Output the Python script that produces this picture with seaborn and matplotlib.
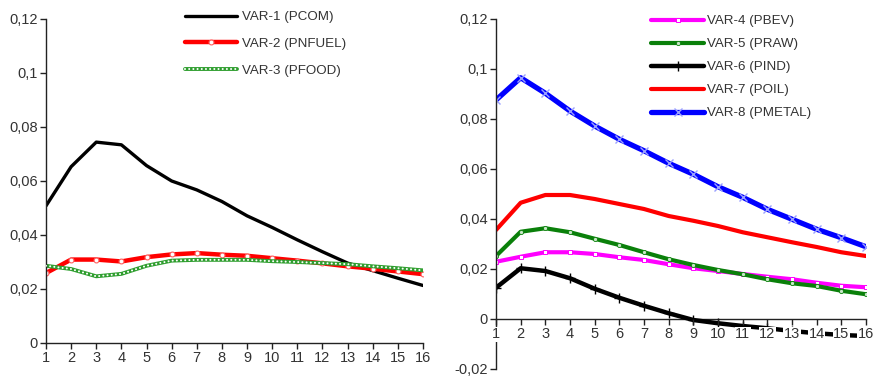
import matplotlib
matplotlib.use("Agg")
import matplotlib.pyplot as plt
import matplotlib.ticker as mticker
from matplotlib.legend_handler import HandlerTuple
import seaborn as sns
import numpy as np

# Horizon (periods)
periods = list(range(1, 17))

# Left panel series
var1_pcom = [0.0508, 0.0653, 0.0744, 0.0734, 0.0657, 0.0600, 0.0567, 0.0524,
             0.0471, 0.0428, 0.0382, 0.0338, 0.0296, 0.0268, 0.0240, 0.0213]
var2_pnfuel = [0.0259, 0.0309, 0.0309, 0.0302, 0.0318, 0.0328, 0.0333, 0.0327,
               0.0323, 0.0314, 0.0305, 0.0295, 0.0284, 0.0275, 0.0265, 0.0255]
var3_pfood = [0.0286, 0.0274, 0.0247, 0.0256, 0.0286, 0.0305, 0.0308, 0.0308,
              0.0308, 0.0303, 0.0300, 0.0296, 0.0292, 0.0284, 0.0277, 0.0269]

# Right panel series
var4_pbev = [0.0229, 0.0249, 0.0267, 0.0267, 0.0260, 0.0247, 0.0236, 0.0219,
             0.0203, 0.0192, 0.0180, 0.0169, 0.0159, 0.0145, 0.0133, 0.0127]
var5_praw = [0.0252, 0.0349, 0.0363, 0.0347, 0.0321, 0.0296, 0.0267, 0.0239,
             0.0216, 0.0196, 0.0179, 0.0159, 0.0143, 0.0132, 0.0113, 0.0099]
var6_pind = [0.0125, 0.0203, 0.0192, 0.0163, 0.0121, 0.0085, 0.0053, 0.0023,
             -0.0004, -0.0017, -0.0028, -0.0037, -0.0048, -0.0057, -0.0064, -0.0068]
var7_poil = [0.0356, 0.0465, 0.0496, 0.0496, 0.0480, 0.0460, 0.0440, 0.0412,
             0.0393, 0.0372, 0.0347, 0.0327, 0.0307, 0.0288, 0.0267, 0.0252]
var8_pmetal = [0.0876, 0.0965, 0.0903, 0.0832, 0.0772, 0.0719, 0.0673, 0.0623,
               0.0579, 0.0529, 0.0487, 0.0439, 0.0399, 0.0359, 0.0325, 0.0289]

left_labels = ["VAR-1 (PCOM)", "VAR-2 (PNFUEL)", "VAR-3 (PFOOD)"]
right_labels = ["VAR-4 (PBEV)", "VAR-5 (PRAW)", "VAR-6 (PIND)", "VAR-7 (POIL)", "VAR-8 (PMETAL)"]

sns.set_style("white")
plt.rcParams["font.family"] = ["Liberation Sans", "DejaVu Sans"]

fig = plt.figure(figsize=(8.74, 3.79), dpi=100)
ax1 = fig.add_axes([46 / 874, 1 - 343 / 379, 377 / 874, 324 / 379])
ax2 = fig.add_axes([496 / 874, 1 - 369 / 379, 370 / 874, 350 / 379])

tick_col = "#333333"


def comma_fmt(v, pos):
    if abs(v) < 1e-12:
        return "0"
    s = ("%.2f" % v).rstrip("0")
    return s.replace(".", ",")


def style_axes(ax, ylo, yhi):
    ax.set_xlim(1, 16)
    ax.set_ylim(ylo, yhi)
    ax.set_xticks(periods)
    ax.set_yticks(np.round(np.arange(ylo, yhi + 0.001, 0.02), 2))
    ax.yaxis.set_major_formatter(mticker.FuncFormatter(comma_fmt))
    for side in ("top", "right"):
        ax.spines[side].set_visible(False)
    for side in ("left", "bottom"):
        ax.spines[side].set_color("#222222")
        ax.spines[side].set_linewidth(1.0)
    ax.tick_params(axis="both", direction="out", length=4, width=1.0,
                   color="#222222", labelcolor=tick_col, labelsize=10.5,
                   bottom=True, left=True, pad=2)
    ax.set_xlabel("")
    ax.set_ylabel("")


# ---- Left panel ----
sns.lineplot(x=periods, y=var1_pcom, ax=ax1, color="black", linewidth=2.4,
             label=left_labels[0])
sns.lineplot(x=periods, y=var2_pnfuel, ax=ax1, color="#ff0000", linewidth=3.2,
             marker="o", markersize=3.5, markerfacecolor="white",
             markeredgecolor="#ff6060", markeredgewidth=0.8, label=left_labels[1])
sns.lineplot(x=periods, y=var3_pfood, ax=ax1, color="#2f9e2f", linewidth=2.8,
             label=left_labels[2])
# hollow chain effect inside the food line
food_dots, = ax1.plot(periods, var3_pfood, color="white", linewidth=1.5,
                      linestyle=(0, (0.01, 2.0)), dash_capstyle="round",
                      solid_capstyle="round", zorder=3)

style_axes(ax1, 0, 0.12)
handles, labels = ax1.get_legend_handles_labels()
handles = list(handles)
handles[2] = (handles[2], food_dots)
leg1 = fig.legend(handles, labels, loc="upper left",
                  bbox_to_anchor=(185 / 874, 1 - 11 / 379), frameon=False,
                  fontsize=9.6, handlelength=3.9, handletextpad=0.35,
                  labelspacing=1.07, borderpad=0, borderaxespad=0,
                  handler_map={tuple: HandlerTuple(ndivide=1, pad=0)})
for t in leg1.get_texts():
    t.set_color(tick_col)
ax1.get_legend().remove()

# ---- Right panel ----
sns.lineplot(x=periods, y=var4_pbev, ax=ax2, color="#ff00ff", linewidth=3.0,
             marker="s", markersize=3.2, markerfacecolor="white",
             markeredgecolor="#ff00ff", markeredgewidth=0.7, label=right_labels[0])
sns.lineplot(x=periods, y=var5_praw, ax=ax2, color="#0a800a", linewidth=3.0,
             marker="o", markersize=3.0, markerfacecolor="#c8e8c8",
             markeredgecolor="#0a800a", markeredgewidth=0.6, label=right_labels[1])
sns.lineplot(x=periods, y=var6_pind, ax=ax2, color="black", linewidth=3.2,
             marker="+", markersize=7, markeredgecolor="black",
             markeredgewidth=1.0, label=right_labels[2])
sns.lineplot(x=periods, y=var7_poil, ax=ax2, color="#ff0000", linewidth=3.0,
             label=right_labels[3])
sns.lineplot(x=periods, y=var8_pmetal, ax=ax2, color="#0000ff", linewidth=3.8,
             marker="x", markersize=6, markeredgecolor="#9aa0ff",
             markeredgewidth=1.0, label=right_labels[4])

style_axes(ax2, -0.02, 0.12)
ax2.spines["bottom"].set_position(("data", 0))
ax2.spines["bottom"].set_zorder(1)
for lbl in ax2.get_xticklabels():
    lbl.set_bbox(dict(facecolor="white", edgecolor="none", pad=0.3))
ax2.xaxis.set_zorder(3)

handles, labels = ax2.get_legend_handles_labels()
leg2 = fig.legend(handles, labels, loc="upper left",
                  bbox_to_anchor=(651 / 874, 1 - 15 / 379), frameon=False,
                  fontsize=9.6, handlelength=4.0, handletextpad=0.2,
                  labelspacing=0.8, borderpad=0, borderaxespad=0)
for t in leg2.get_texts():
    t.set_color(tick_col)
ax2.get_legend().remove()

fig.savefig("out.png", dpi=100, facecolor="white")
